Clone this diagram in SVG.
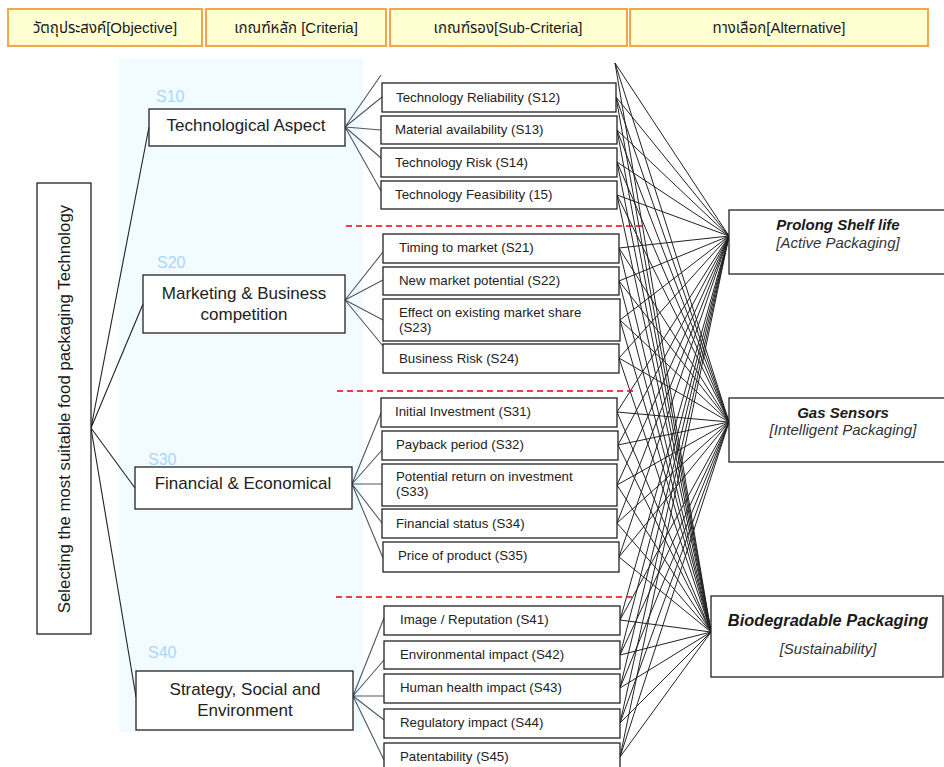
<svg xmlns="http://www.w3.org/2000/svg" width="944" height="767" viewBox="0 0 944 767">
  <style>
    text { font-family: "Liberation Sans", Arial, "Noto Sans Thai", "Noto Sans", sans-serif; fill: #1a1a1a; }
    .hdr rect { fill: #FFFFD2; stroke: #F6A54A; stroke-width: 2; }
    .hdr text { font-size: 15px; text-anchor: middle; }
    .box { fill: #ffffff; stroke: #222; stroke-width: 1.3; }
    .crit { font-size: 17px; text-anchor: middle; fill: #222; }
    .sub { font-size: 13.3px; fill: #222; }
    .tag { font-size: 16px; fill: #A8D8F8; }
    .alt-b { font-size: 15px; font-weight: bold; font-style: italic; text-anchor: middle; }
    .alt-b.big { font-size: 16.4px; }
    .alt-i { font-size: 15px; font-style: italic; text-anchor: middle; fill: #333; }
    .mesh { stroke: #222; stroke-width: 1; fill: none; }
    .fan { stroke: #4a5866; stroke-width: 1.1; fill: none; }
    .root { stroke: #222; stroke-width: 1.1; fill: none; }
    .sep { stroke: #F00000; stroke-width: 1.3; stroke-dasharray: 6 4; }
  </style>

  <rect x="0" y="0" width="944" height="767" fill="#ffffff"/>

  <!-- column headers -->
  <g id="headers" class="hdr">
    <rect x="8" y="9" width="194" height="37"/>
    <text x="105" y="33">วัตถุประสงค์[Objective]</text>
    <rect x="206" y="9" width="180" height="37"/>
    <text x="296" y="33">เกณฑ์หลัก [Criteria]</text>
    <rect x="390" y="9" width="237" height="37"/>
    <text x="508" y="33">เกณฑ์รอง[Sub-Criteria]</text>
    <rect x="630" y="9" width="298" height="37"/>
    <text x="779" y="33">ทางเลือก[Alternative]</text>
  </g>

  <!-- shaded criteria band -->
  <rect id="criteria-band" x="119" y="58" width="244" height="674" fill="#F2FBFF"/>

  <!-- connectors -->
  <g id="connectors">
    <!-- objective to criteria -->
    <path class="root" d="M91 428L149 127M91 428L143 304M91 428L135 488M91 428L136 697"/>
    <!-- criteria to sub-criteria -->
    <path class="fan" d="M345 127L381 75M345 127L382 97M345 127L381 130M345 127L381 158M345 127L381 191"/>
    <path class="fan" d="M345 300L383 252M345 300L383 280M345 300L383 320M345 300L383 346"/>
    <path class="fan" d="M352 484L381 413M352 484L382 450M352 484L382 484M352 484L382 523M352 484L383 558"/>
    <path class="fan" d="M353 696L384 618M353 696L384 660M353 696L384 696M353 696L384 720M353 696L384 760"/>
    <!-- sub-criteria to alternatives -->
    <path class="mesh" d="M615 63L729 236M616 97L729 236M617 130L729 236M617 162L729 236M617 195L729 236M619 248L729 236M619 281L729 236M620 320L729 236M619 358L729 236M617 412L729 236M618 445L729 236M617 485L729 236M617 523L729 236M619 557L729 236M620 620L729 236M620 655L729 236M620 688L729 236M620 723L729 236M620 757L729 236"/>
    <path class="mesh" d="M615 63L729 422M616 97L729 422M617 130L729 422M617 162L729 422M617 195L729 422M619 248L729 422M619 281L729 422M620 320L729 422M619 358L729 422M617 412L729 422M618 445L729 422M617 485L729 422M617 523L729 422M619 557L729 422M620 620L729 422M620 655L729 422M620 688L729 422M620 723L729 422M620 757L729 422"/>
    <path class="mesh" d="M615 63L711 632M616 97L711 632M617 130L711 632M617 162L711 632M617 195L711 632M619 248L711 632M619 281L711 632M620 320L711 632M619 358L711 632M617 412L711 632M618 445L711 632M617 485L711 632M617 523L711 632M619 557L711 632M620 620L711 632M620 655L711 632M620 688L711 632M620 723L711 632M620 757L711 632"/>
  </g>

  <!-- group separators -->
  <g id="separators">
    <line class="sep" x1="346" y1="226" x2="644" y2="226"/>
    <line class="sep" x1="337" y1="391" x2="634" y2="391"/>
    <line class="sep" x1="336" y1="597" x2="634" y2="597"/>
  </g>

  <!-- objective -->
  <g id="objective">
    <rect class="box" x="37" y="183" width="54" height="451"/>
    <text x="0" y="0" font-size="16.8" text-anchor="middle" transform="translate(70 409) rotate(-90)" fill="#222">Selecting the most suitable food packaging Technology</text>
  </g>

  <!-- criteria -->
  <g id="S10">
    <text class="tag" x="156" y="102">S10</text>
    <rect class="box" x="149" y="109" width="196" height="37"/>
    <text class="crit" x="246" y="131">Technological Aspect</text>
  </g>
  <g id="S20">
    <text class="tag" x="157" y="268">S20</text>
    <rect class="box" x="143" y="275" width="202" height="58"/>
    <text class="crit" x="244" y="299">Marketing &amp; Business</text>
    <text class="crit" x="244" y="320">competition</text>
  </g>
  <g id="S30">
    <text class="tag" x="148" y="465">S30</text>
    <rect class="box" x="135" y="467" width="217" height="42"/>
    <text class="crit" x="243" y="489">Financial &amp; Economical</text>
  </g>
  <g id="S40">
    <text class="tag" x="148" y="658">S40</text>
    <rect class="box" x="136" y="671" width="217" height="59"/>
    <text class="crit" x="245" y="695">Strategy, Social and</text>
    <text class="crit" x="245" y="716">Environment</text>
  </g>

  <!-- sub-criteria -->
  <g id="S12"><rect class="box" x="382" y="83" width="234" height="29"/><text class="sub" x="396" y="102">Technology Reliability (S12)</text></g>
  <g id="S13"><rect class="box" x="381" y="116" width="236" height="28"/><text class="sub" x="395" y="134">Material availability (S13)</text></g>
  <g id="S14"><rect class="box" x="381" y="148" width="236" height="29"/><text class="sub" x="395" y="167">Technology Risk (S14)</text></g>
  <g id="S15"><rect class="box" x="381" y="181" width="236" height="28"/><text class="sub" x="395" y="199">Technology Feasibility (15)</text></g>

  <g id="S21"><rect class="box" x="383" y="234" width="236" height="29"/><text class="sub" x="399" y="252">Timing to market (S21)</text></g>
  <g id="S22"><rect class="box" x="383" y="267" width="236" height="28"/><text class="sub" x="399" y="285">New market potential (S22)</text></g>
  <g id="S23"><rect class="box" x="383" y="299" width="237" height="42"/><text class="sub" x="399" y="317">Effect on existing market share</text><text class="sub" x="399" y="332">(S23)</text></g>
  <g id="S24"><rect class="box" x="383" y="344" width="236" height="29"/><text class="sub" x="399" y="363">Business Risk (S24)</text></g>

  <g id="S31"><rect class="box" x="381" y="398" width="236" height="29"/><text class="sub" x="395" y="416">Initial Investment (S31)</text></g>
  <g id="S32"><rect class="box" x="382" y="431" width="236" height="29"/><text class="sub" x="396" y="449">Payback period (S32)</text></g>
  <g id="S33"><rect class="box" x="382" y="464" width="235" height="42"/><text class="sub" x="396" y="481">Potential return on investment</text><text class="sub" x="396" y="496">(S33)</text></g>
  <g id="S34"><rect class="box" x="382" y="509" width="235" height="29"/><text class="sub" x="396" y="528">Financial status (S34)</text></g>
  <g id="S35"><rect class="box" x="383" y="542" width="236" height="30"/><text class="sub" x="398" y="560">Price of product (S35)</text></g>

  <g id="S41"><rect class="box" x="384" y="606" width="236" height="29"/><text class="sub" x="400" y="624">Image / Reputation (S41)</text></g>
  <g id="S42"><rect class="box" x="384" y="641" width="236" height="28"/><text class="sub" x="400" y="659">Environmental impact (S42)</text></g>
  <g id="S43"><rect class="box" x="384" y="674" width="236" height="29"/><text class="sub" x="400" y="692">Human health impact (S43)</text></g>
  <g id="S44"><rect class="box" x="384" y="709" width="236" height="29"/><text class="sub" x="400" y="727">Regulatory impact (S44)</text></g>
  <g id="S45"><rect class="box" x="384" y="743" width="236" height="30"/><text class="sub" x="400" y="761">Patentability (S45)</text></g>

  <!-- alternatives -->
  <g id="alt-prolong">
    <rect class="box" x="729" y="210" width="230" height="64"/>
    <text class="alt-b" x="838" y="230">Prolong Shelf life</text>
    <text class="alt-i" x="838" y="248">[Active Packaging]</text>
  </g>
  <g id="alt-gas">
    <rect class="box" x="729" y="398" width="230" height="64"/>
    <text class="alt-b" x="843" y="418">Gas Sensors</text>
    <text class="alt-i" x="843" y="435">[Intelligent Packaging]</text>
  </g>
  <g id="alt-bio">
    <rect class="box" x="711" y="596" width="232" height="81"/>
    <text class="alt-b big" x="828" y="626">Biodegradable Packaging</text>
    <text class="alt-i" x="828" y="654">[Sustainability]</text>
  </g>
</svg>
